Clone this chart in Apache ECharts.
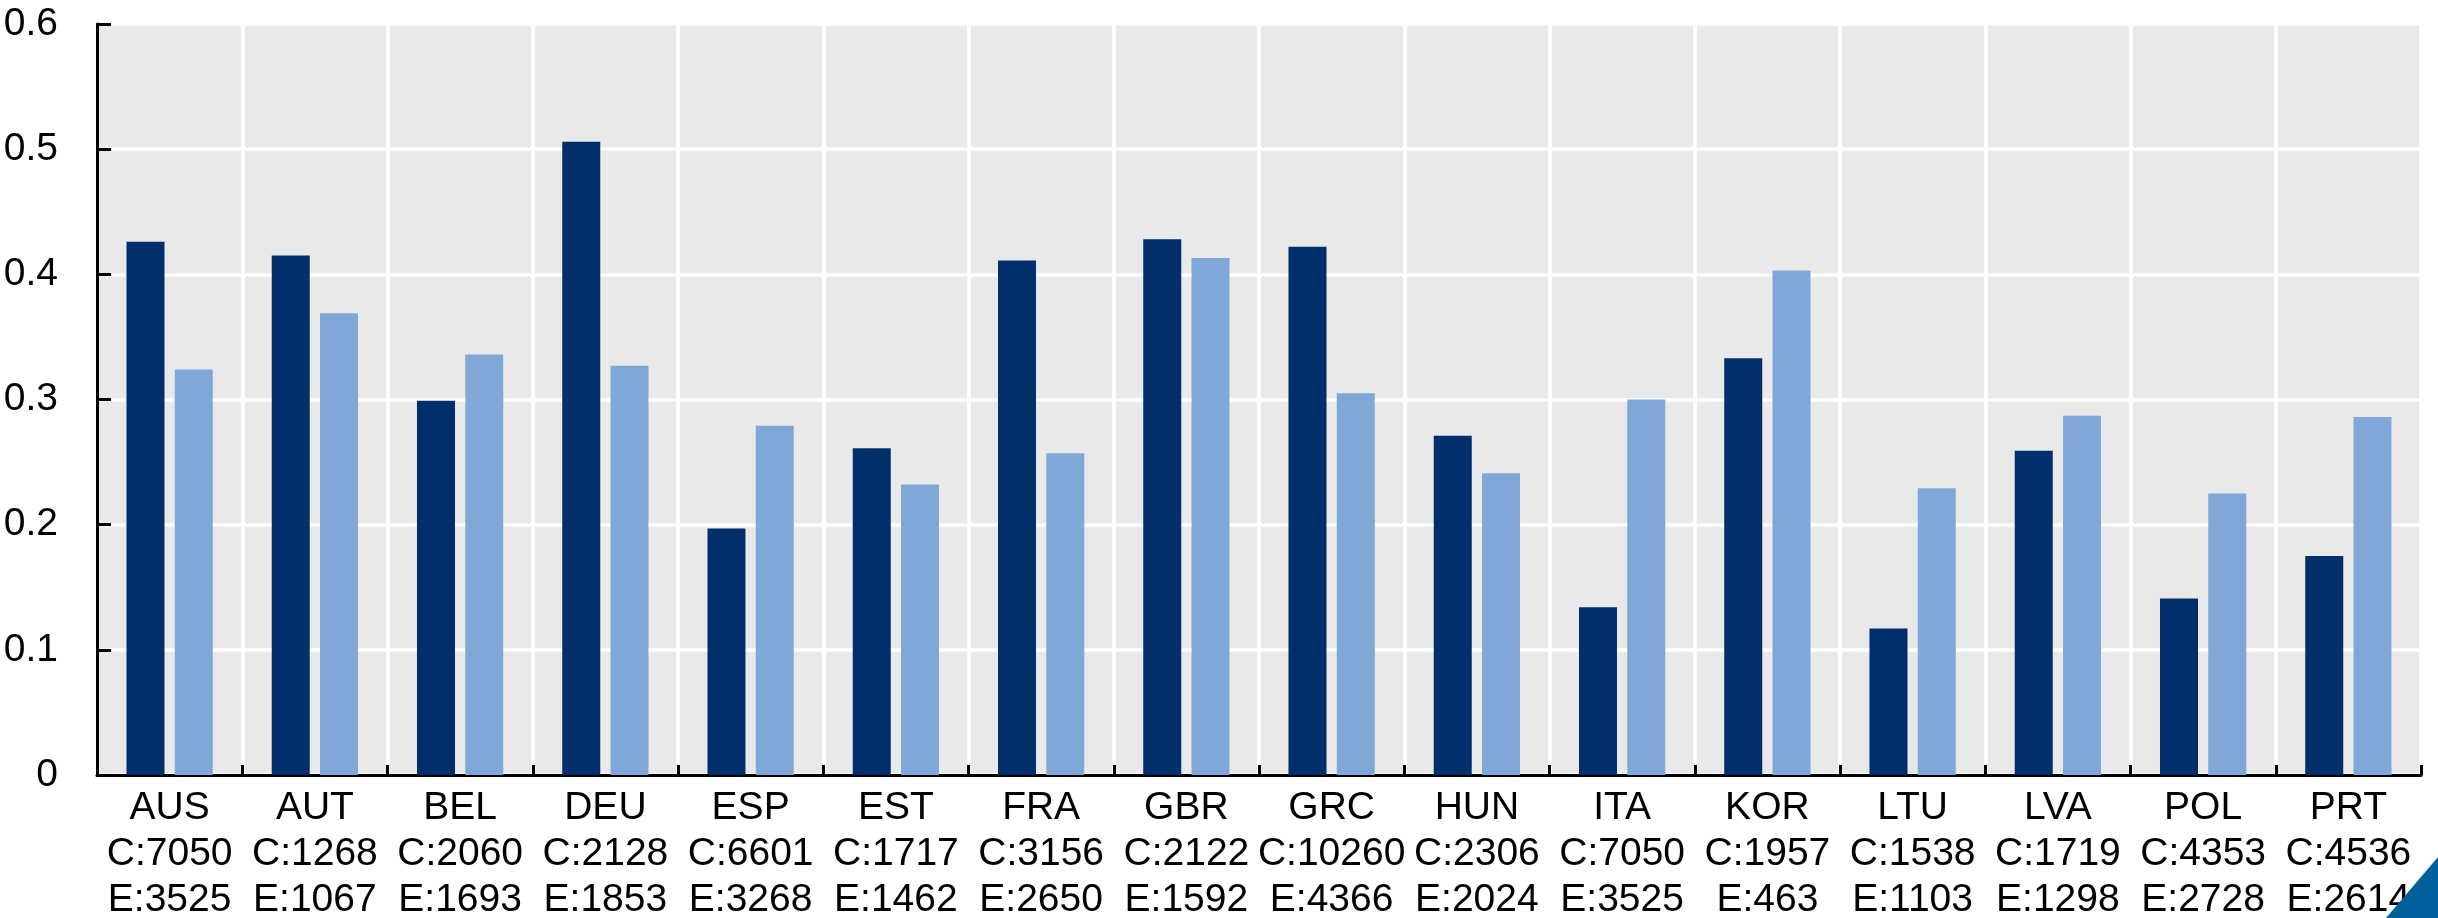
<!DOCTYPE html>
<html>
<head>
<meta charset="utf-8">
<script src="https://cdn.jsdelivr.net/npm/echarts@6/dist/echarts.min.js"></script>
<style>
  html, body { margin: 0; padding: 0; background: #fff; }
  #chart { width: 2438px; height: 918px; }
</style>
</head>
<body>
<div id="chart"></div>
<script>
// countries and sample sizes shown under each group
const countries = ['AUS', 'AUT', 'BEL', 'DEU', 'ESP', 'EST', 'FRA', 'GBR', 'GRC', 'HUN', 'ITA', 'KOR', 'LTU', 'LVA', 'POL', 'PRT']
const cCounts = [7050, 1268, 2060, 2128, 6601, 1717, 3156, 2122, 10260, 2306, 7050, 1957, 1538, 1719, 4353, 4536]
const eCounts = [3525, 1067, 1693, 1853, 3268, 1462, 2650, 1592, 4366, 2024, 3525, 463, 1103, 1298, 2728, 2614]

// bar values
const darkValues = [0.426, 0.415, 0.299, 0.506, 0.197, 0.261, 0.411, 0.428, 0.422, 0.271, 0.134, 0.333, 0.117, 0.259, 0.141, 0.175]
const lightValues = [0.324, 0.369, 0.336, 0.327, 0.279, 0.232, 0.257, 0.413, 0.305, 0.241, 0.300, 0.403, 0.229, 0.287, 0.225, 0.286]

const yTicks = [0, 0.1, 0.2, 0.3, 0.4, 0.5, 0.6]

const chart = echarts.init(document.getElementById('chart'))

const font = 'Liberation Sans, Arial, sans-serif'

const option = {
  animation: false,
  textStyle: { fontFamily: font },
  grid: {
    left: 97,
    right: 17,
    top: 24,
    bottom: 143,
    outerBoundsMode: 'none',
    containLabel: false,
    show: true,
    backgroundColor: '#e9e9e9',
    borderWidth: 0
  },
  xAxis: {
    type: 'category',
    data: countries,
    axisLine: { lineStyle: { color: '#000', width: 3 } },
    axisTick: { show: true, inside: true, length: 10, lineStyle: { color: '#000', width: 3 } },
    splitLine: { show: true, lineStyle: { color: '#fff', width: 3.5 } },
    axisLabel: {
      color: '#000',
      fontSize: 39,
      lineHeight: 46,
      margin: 10,
      interval: 0,
      formatter: function (val, i) {
        return val + '\nC:' + cCounts[i] + '\nE:' + eCounts[i]
      }
    }
  },
  yAxis: {
    type: 'value',
    min: yTicks[0],
    max: yTicks[yTicks.length - 1],
    interval: 0.1,
    axisLine: { show: true, lineStyle: { color: '#000', width: 3 } },
    axisTick: { show: true, inside: true, length: 14, lineStyle: { color: '#000', width: 3 } },
    splitLine: { show: true, lineStyle: { color: '#fff', width: 3.5 } },
    axisLabel: {
      color: '#000',
      fontSize: 39,
      margin: 39,
      formatter: function (v) { return String(Math.round(v * 10) / 10) }
    }
  },
  series: [
    {
      type: 'bar',
      data: darkValues,
      barWidth: 38,
      barGap: '27%',
      itemStyle: { color: '#002f6c' }
    },
    {
      type: 'bar',
      data: lightValues,
      barWidth: 38,
      itemStyle: { color: '#7fa8d9' }
    }
  ],
  graphic: [
    {
      type: 'polygon',
      shape: { points: [[2438, 857], [2438, 918], [2386, 918]] },
      style: { fill: '#00609c' },
      z: 100
    }
  ]
}

chart.setOption(option)
</script>
</body>
</html>
